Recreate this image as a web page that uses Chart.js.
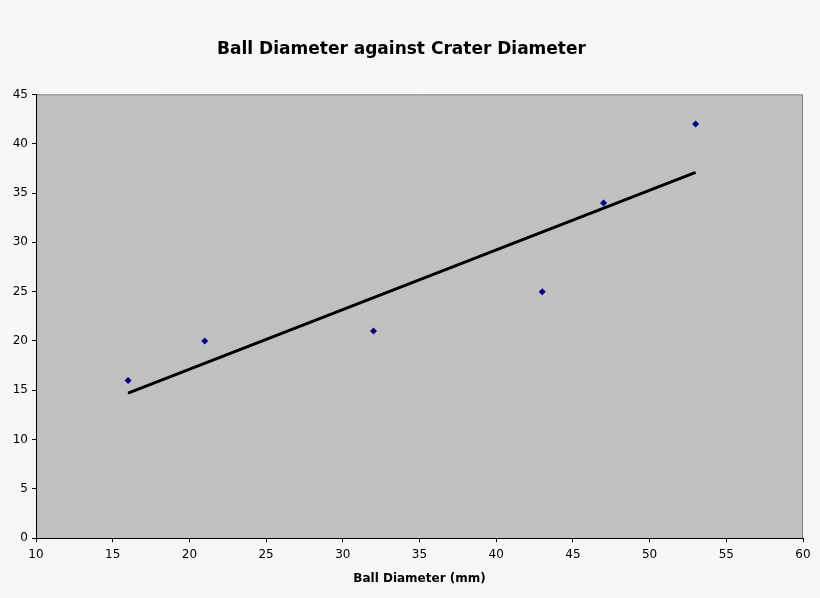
<!DOCTYPE html>
<html>
<head>
<meta charset="utf-8">
<script src="https://cdn.jsdelivr.net/npm/chart.js@4"></script>
<style>
  html, body { margin: 0; padding: 0; background: #f7f7f7; }
  #wrap { width: 820px; height: 598px; }
</style>
</head>
<body>
<div id="wrap"><canvas id="chart"></canvas></div>
<script>
// ball diameter (mm) vs crater diameter
const ballDiameter = [16, 21, 32, 43, 47, 53];
const craterDiameter = [16, 20, 21, 25, 34, 42];
// linear trend line, ends
const trendX = [16, 53];
const trendY = [14.7, 37.1];

const xTicks = { min: 10, max: 60, step: 5 };
const yTicks = { min: 0, max: 45, step: 5 };

const plotBg = {
  id: 'plotBg',
  beforeDraw(chart) {
    const { ctx, chartArea: a } = chart;
    ctx.save();
    ctx.fillStyle = '#c0c0c0';
    ctx.fillRect(a.left, a.top, a.right - a.left, a.bottom - a.top);
    ctx.strokeStyle = '#808080';
    ctx.lineWidth = 1;
    ctx.beginPath();
    ctx.moveTo(a.left, a.top + 0.5);
    ctx.lineTo(a.right - 0.5, a.top + 0.5);
    ctx.lineTo(a.right - 0.5, a.bottom);
    ctx.stroke();
    ctx.restore();
  }
};

new Chart(document.getElementById('chart'), {
  type: 'scatter',
  data: {
    datasets: [
      {
        label: 'Crater Diameter',
        data: ballDiameter.map((x, i) => ({ x: x, y: craterDiameter[i] })),
        pointStyle: 'rectRot',
        pointRadius: 3.5,
        backgroundColor: '#000080',
        borderColor: '#000080',
        borderWidth: 0
      },
      {
        label: 'Linear',
        type: 'line',
        data: trendX.map((x, i) => ({ x: x, y: trendY[i] })),
        borderColor: '#000000',
        borderWidth: 3,
        pointRadius: 0,
        fill: false
      }
    ]
  },
  options: {
    responsive: true,
    maintainAspectRatio: false,
    animation: false,
    layout: { padding: { left: 0, right: 17, top: 20, bottom: 6 } },
    plugins: {
      legend: { display: false },
      tooltip: { enabled: false },
      title: {
        display: true,
        text: 'Ball Diameter against Crater Diameter',
        color: '#000',
        font: { family: 'DejaVu Sans', size: 17, weight: 'bold' },
        padding: { top: 19, bottom: 35 }
      }
    },
    scales: {
      x: {
        type: 'linear',
        min: xTicks.min,
        max: xTicks.max,
        ticks: {
          stepSize: xTicks.step,
          color: '#000',
          font: { family: 'DejaVu Sans', size: 12 },
          padding: 5
        },
        grid: { drawOnChartArea: false, color: '#000', tickLength: 4 },
        border: { color: '#000', width: 1 },
        title: {
          display: true,
          text: 'Ball Diameter (mm)',
          color: '#000',
          font: { family: 'DejaVu Sans', size: 12, weight: 'bold' },
          padding: { top: 5, bottom: 6 }
        }
      },
      y: {
        min: yTicks.min,
        max: yTicks.max,
        ticks: {
          stepSize: yTicks.step,
          color: '#000',
          font: { family: 'DejaVu Sans', size: 12 },
          padding: 4
        },
        grid: { drawOnChartArea: false, color: '#000', tickLength: 4 },
        border: { color: '#000', width: 1 },
        afterFit(scale) { scale.width = 36; }
      }
    }
  },
  plugins: [plotBg]
});
</script>
</body>
</html>
